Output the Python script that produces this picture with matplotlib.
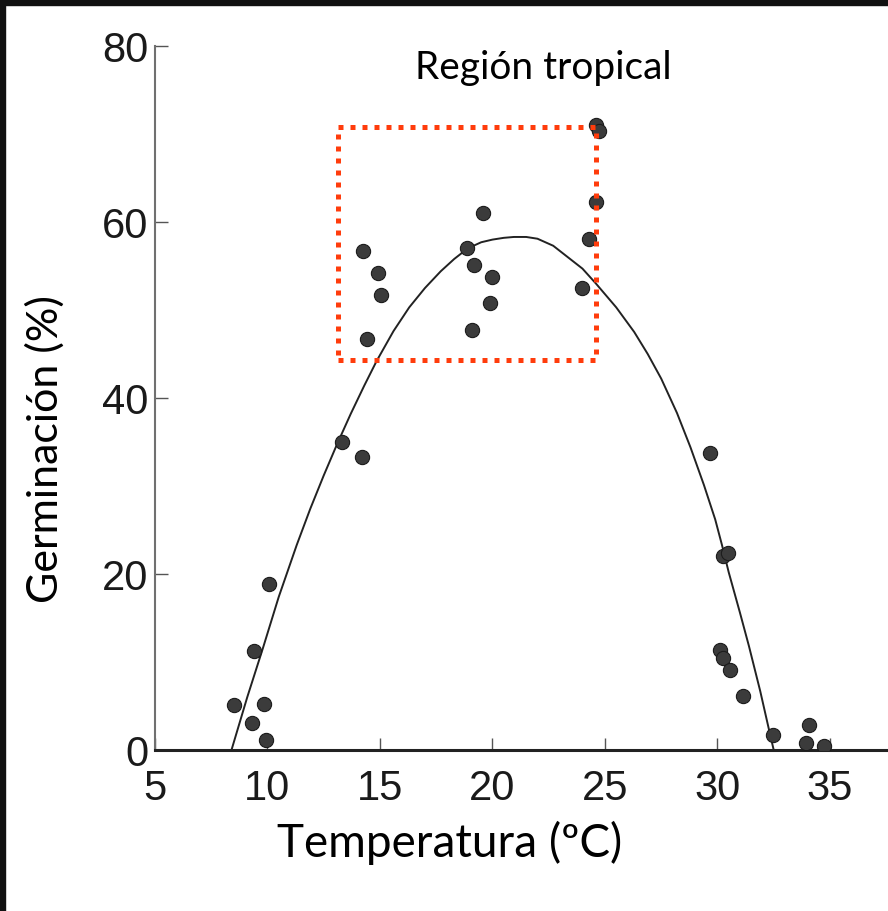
import matplotlib
matplotlib.use('Agg')

from matplotlib import pyplot as plt
from matplotlib.patches import Rectangle

# measured germination points (temperature in C, germination in %)
temp = [8.53, 9.30, 9.42, 9.83, 9.94, 10.06,
        13.29, 14.18, 14.23, 14.41, 14.92, 15.03,
        18.87, 19.09, 19.17, 19.58, 19.91, 20.0,
        23.97, 24.3, 24.6, 24.6, 24.75,
        29.66, 30.10, 30.25, 30.25, 30.48, 30.55, 31.15,
        32.49, 33.93, 34.05, 34.72]
germ = [5.1, 3.1, 11.2, 5.2, 1.1, 18.9,
        35.0, 33.3, 56.7, 46.7, 54.2, 51.7,
        57.1, 47.7, 55.1, 61.0, 50.8, 53.7,
        52.5, 58.1, 62.3, 71.0, 70.3,
        33.8, 11.4, 10.4, 22.0, 22.4, 9.1, 6.1,
        1.7, 0.8, 2.8, 0.4]

# fitted curve
curve_t = [8.4, 9.1, 9.8, 10.5, 11.3, 11.9, 12.5, 13.1, 13.7, 14.3, 14.85,
           15.6, 16.3, 17.0, 17.7, 18.3, 18.9, 19.5, 20.0, 20.5, 20.95, 21.5,
           22.0, 22.7, 23.3, 24.0, 24.6, 25.5, 26.3, 26.9, 27.5, 28.2, 28.8,
           29.4, 29.9, 30.2, 30.5, 31.0, 31.4, 31.9, 32.3, 32.5]
curve_g = [0, 6.0, 11.6, 17.4, 23.3, 27.4, 31.2, 34.8, 38.2, 41.4, 44.2,
           47.6, 50.3, 52.5, 54.4, 55.8, 57.0, 57.7, 58.0, 58.2, 58.3, 58.3,
           58.1, 57.3, 56.1, 54.7, 53.0, 50.3, 47.5, 45.0, 42.2, 38.3, 34.4,
           30.1, 26.2, 23.3, 20.2, 15.6, 11.8, 6.7, 2.2, 0]

xticks = [5, 10, 15, 20, 25, 30, 35]
yticks = [0, 20, 40, 60, 80]

# tropical region box: temp from/to, germination from/to
box_t = (13.13, 24.6)
box_g = (44.3, 70.8)

W, H = 888, 911
fig = plt.figure(figsize=(W / 100, H / 100), dpi=100)
fig.patch.set_facecolor('white')

# dark frame of the slide on the top and left edge
fig.patches.append(Rectangle((0, 1 - 5 / H), 1, 5 / H, transform=fig.transFigure,
                             color='#111111', zorder=0))
fig.patches.append(Rectangle((0, 0), 5 / W, 1, transform=fig.transFigure,
                             color='#111111', zorder=0))

ax = fig.add_axes([155 / W, 1 - 750 / H, 1 - 155 / W, (750 - 46) / H])
ax.set_xlim(5, 37.58)
ax.set_ylim(0, 80)

ax.plot(curve_t, curve_g, color='#222222', lw=1.4, zorder=2,
        solid_joinstyle='round')
ax.scatter(temp, germ, s=105, color='#3b3b3b', edgecolors='#1c1c1c',
           linewidths=0.8, zorder=3)

ax.add_patch(Rectangle((box_t[0], box_g[0]), box_t[1] - box_t[0], box_g[1] - box_g[0],
                       fill=False, edgecolor='#ff3c0c', lw=3.6,
                       linestyle=(0, (1, 1.4)), capstyle='butt', joinstyle='miter',
                       zorder=4, clip_on=False))

for s in ['top', 'right']:
    ax.spines[s].set_visible(False)
ax.spines['left'].set_color('#707070')
ax.spines['left'].set_linewidth(1.5)
ax.spines['bottom'].set_color('#222222')
ax.spines['bottom'].set_linewidth(2.2)

tick_font = dict(family=['Liberation Sans', 'DejaVu Sans'], size=30, color='#1a1a1a')
ax.set_xticks(xticks)
ax.set_yticks(yticks)
ax.set_xticklabels([str(v) for v in xticks], **tick_font)
ax.set_yticklabels([str(v) for v in yticks], **tick_font)
ax.tick_params(axis='x', direction='in', length=9, width=1, color='#555555', pad=14)
ax.tick_params(axis='y', direction='in', length=9, width=1, color='#555555', pad=5)

label_font = dict(family=['Lato', 'DejaVu Sans'], color='black')
fig.text(450 / W, 1 - 843 / H, 'Temperatura (ºC)', ha='center', va='center',
         fontsize=33, **label_font)
fig.text(45 / W, 1 - 449 / H, 'Germinación (%)', ha='center', va='center',
         rotation=90, fontsize=31, **label_font)
fig.text(543 / W, 1 - 68 / H, 'Región tropical', ha='center', va='center',
         fontsize=28, **label_font)

fig.savefig('out.png', dpi=100)
